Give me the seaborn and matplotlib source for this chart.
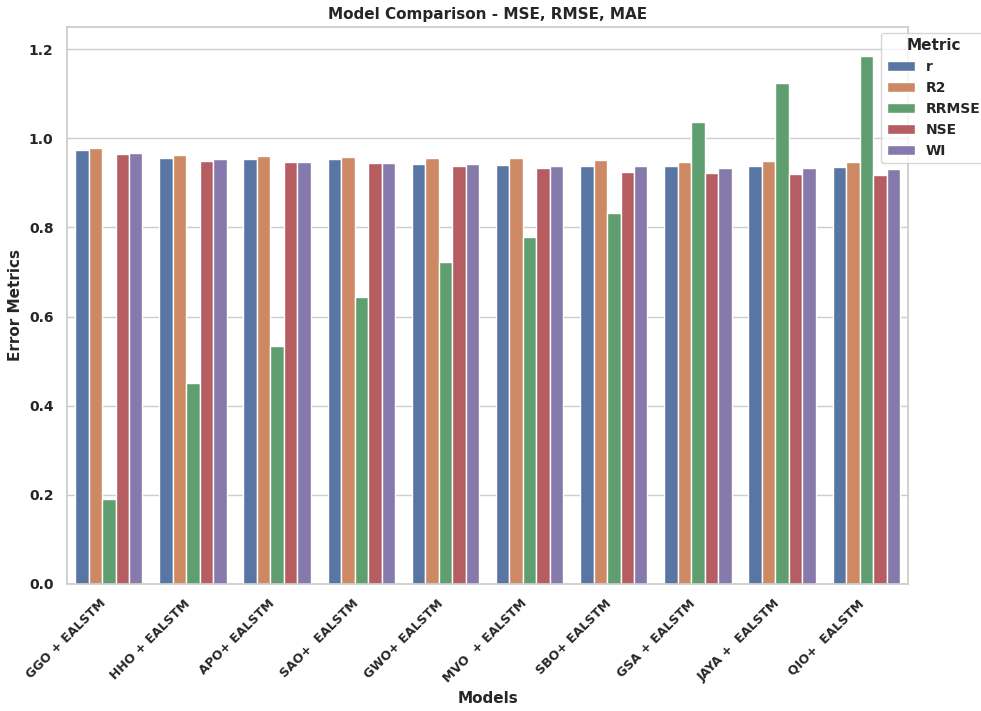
import numpy as np
import pandas as pd
import matplotlib
matplotlib.use("Agg")
import matplotlib.pyplot as plt
import seaborn as sns

models = ["GGO + EALSTM", "HHO + EALSTM", "APO+ EALSTM", "SAO+  EALSTM",
          "GWO+ EALSTM", "MVO  + EALSTM", "SBO+ EALSTM", "GSA + EALSTM",
          "JAYA +  EALSTM", "QIO+  EALSTM"]
metrics = ["r", "R2", "RRMSE", "NSE", "WI"]

r_vals = [0.973, 0.957, 0.954, 0.953, 0.942, 0.940, 0.939, 0.937, 0.937, 0.935]
r2_vals = [0.979, 0.963, 0.961, 0.959, 0.957, 0.955, 0.951, 0.947, 0.949, 0.946]
rrmse_vals = [0.190, 0.450, 0.534, 0.644, 0.722, 0.778, 0.832, 1.037, 1.124, 1.186]
nse_vals = [0.966, 0.950, 0.946, 0.944, 0.939, 0.934, 0.925, 0.922, 0.920, 0.918]
wi_vals = [0.968, 0.953, 0.946, 0.944, 0.942, 0.939, 0.939, 0.934, 0.934, 0.932]

values = {"r": r_vals, "R2": r2_vals, "RRMSE": rrmse_vals, "NSE": nse_vals, "WI": wi_vals}
rows = []
for m in metrics:
    for model, v in zip(models, values[m]):
        rows.append({"Models": model, "Metric": m, "Value": v})
df = pd.DataFrame(rows)

sns.set_theme(style="whitegrid", palette="deep")

fig = plt.figure(figsize=(9.81, 7.11), dpi=100)
ax = fig.add_axes([0.068, 0.179, 0.858, 0.783])

sns.barplot(data=df, x="Models", y="Value", hue="Metric", order=models,
            hue_order=metrics, ax=ax)

ax.set_title("Model Comparison - MSE, RMSE, MAE", fontsize=11, fontweight="bold")
ax.set_xlabel("Models", fontsize=11, fontweight="bold")
ax.set_ylabel("Error Metrics", fontsize=11, fontweight="bold")
ax.set_ylim(0, 1.25)
ax.set_yticks(np.arange(0, 1.21, 0.2))
ax.set_yticklabels([f"{t:.1f}" for t in np.arange(0, 1.21, 0.2)], fontweight="bold", fontsize=10)
plt.setp(ax.get_xticklabels(), rotation=45, ha="right", fontweight="bold", fontsize=9)

leg = ax.legend(title="Metric", loc="upper left", bbox_to_anchor=(0.968, 0.99),
                borderaxespad=0,
                prop={"weight": "bold", "size": 10},
                title_fontproperties={"weight": "bold", "size": 11})

fig.savefig("out.png", dpi=100)
